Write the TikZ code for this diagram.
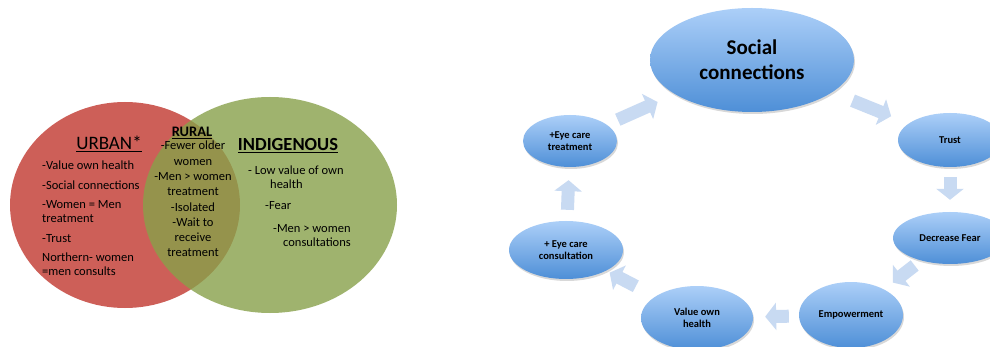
\documentclass[tikz,border=0pt]{standalone}
\usepackage{fontspec}
\setmainfont{Carlito}
\usetikzlibrary{shapes.geometric,arrows.meta,shadows}

\definecolor{urbanred}{RGB}{205,95,88}
\definecolor{indiggreen}{RGB}{136,161,74}
\definecolor{bubbletop}{RGB}{172,207,248}
\definecolor{bubblebot}{RGB}{78,143,215}
\definecolor{flowblue}{RGB}{200,218,242}

\tikzset{
  bubble/.style={ellipse, inner sep=0pt, align=center,
    top color=bubbletop, bottom color=bubblebot,
    drop shadow={shadow xshift=1pt, shadow yshift=-2pt, opacity=.3},
    font=\bfseries\fontsize{10.5}{12}\selectfont},
  flow/.style={draw=flowblue, line width=13pt, -{Triangle[width=27pt,length=11pt]}},
  vtext/.style={inner sep=0pt, font=\fontsize{12.5}{14}\selectfont}
}

\begin{document}
\begin{tikzpicture}[x=1pt,y=-1pt]
  % Page
  \fill[white] (0,0) rectangle (990,347);
  \useasboundingbox (0,0) rectangle (990,347);

  % The two sets, green laid over red
  \fill[urbanred] (125,205) ellipse (115 and 103);
  \fill[indiggreen, opacity=.8] (270,205) ellipse (127 and 108);

  % Set titles
  \node (urban) at (109,144) {\fontsize{19}{22}\selectfont\underline{URBAN*}};
  \node (rural) at (192,133) {\bfseries\fontsize{14.5}{16}\selectfont\underline{RURAL}};
  \node (indig) at (288,146) {\bfseries\fontsize{18.5}{22}\selectfont\underline{INDIGENOUS}};

  % What each group said
  \node[vtext, anchor=north west, align=left] (urbanlist) at (42,161)
    {-Value own health\\[5.5pt]-Social connections\\[5.5pt]-Women = Men\\treatment\\[5.5pt]-Trust\\[5.5pt]Northern- women\\=men consults};
  \node[vtext, anchor=north, align=center, font=\fontsize{12.5}{15.3}\selectfont] (rurallist) at (193,141)
    {-Fewer older\\women\\-Men > women\\treatment\\-Isolated\\-Wait to\\receive\\treatment};
  \node[vtext, anchor=north west, align=left] (indig1) at (248,166) {- Low value of own\\\hspace*{22pt}health};
  \node[vtext, anchor=north west] (indig2) at (265,201) {-Fear};
  \node[vtext, anchor=north west, align=left] (indig3) at (273,224) {-Men > women\\\hspace*{10pt}consultations};

  % Cycle
  \node[bubble, minimum width=204pt, minimum height=104pt, font=\bfseries\fontsize{21}{25}\selectfont]
    (social) at (752,60) {Social\\connections};
  \node[bubble, minimum width=104pt, minimum height=54pt] (trust) at (950,140) {Trust};
  \node[bubble, minimum width=114pt, minimum height=52pt] (fear) at (950,238) {Decrease Fear};
  \node[bubble, minimum width=104pt, minimum height=66pt] (empow) at (851,315) {Empowerment};
  \node[bubble, minimum width=112pt, minimum height=64pt] (value) at (697,318) {Value own\\health};
  \node[bubble, minimum width=114pt, minimum height=58pt] (consult) at (566,250) {+ Eye care\\consultation};
  \node[bubble, minimum width=94pt, minimum height=52pt] (treat) at (570,141) {+Eye care\\treatment};

  % Block arrows between the bubbles
  \draw[flow, shorten <=12pt, shorten >=19pt] (treat) -- (social);
  \draw[flow, shorten <=22pt, shorten >=19pt] (social) -- (trust);
  \draw[flow, shorten <=10pt, shorten >=12pt] (trust) -- (fear);
  \draw[flow, shorten <=8pt, shorten >=11pt] (fear) -- (empow);
  \draw[flow, shorten <=10pt, shorten >=12pt] (empow) -- (value);
  \draw[flow, shorten <=22pt, shorten >=4pt] (value) -- (consult);
  \draw[flow, shorten <=11pt, shorten >=13pt] (consult) -- (treat);
\end{tikzpicture}
\end{document}
